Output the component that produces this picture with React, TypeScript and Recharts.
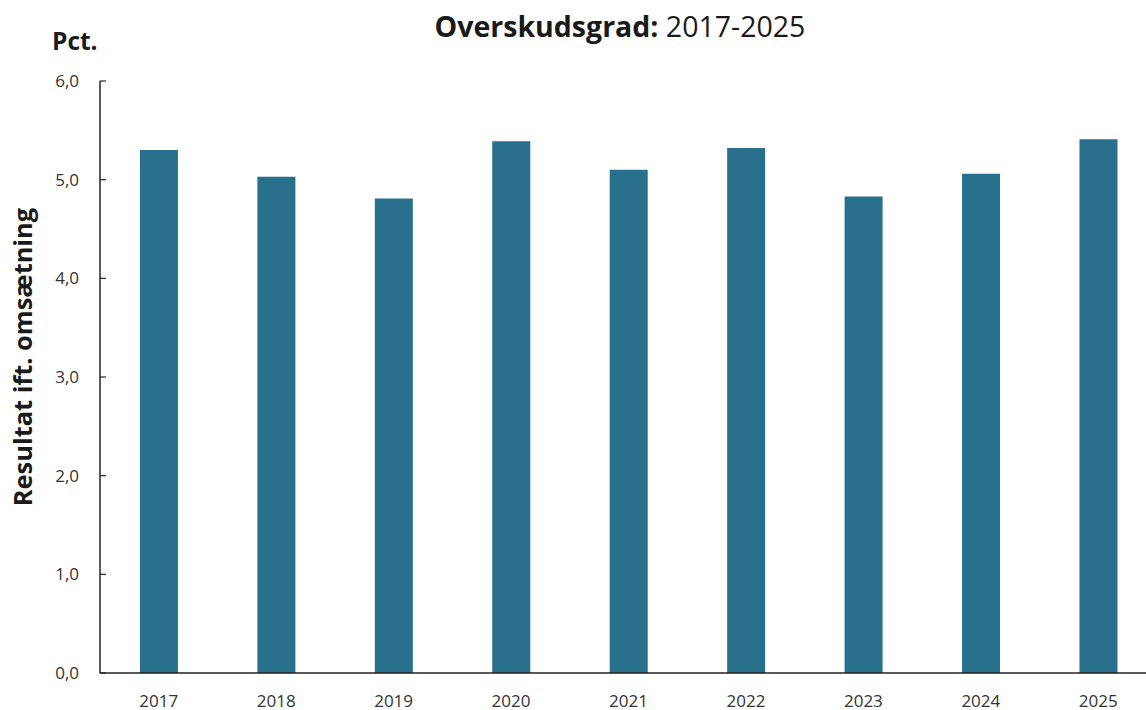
import { Bar, BarChart, XAxis, YAxis } from "recharts";

const years = ["2017", "2018", "2019", "2020", "2021", "2022", "2023", "2024", "2025"];
const margins = [5.3, 5.03, 4.81, 5.39, 5.1, 5.32, 4.83, 5.06, 5.41];
const yTicks = [0, 1, 2, 3, 4, 5, 6];

const rows = years.map((y, i) => ({ year: y, value: margins[i] }));

const FONT = "'Open Sans', sans-serif";
const INK = "#1a1a1a";
const BAR = "#28708b";

// Y ticks point into the plot, so the tick line is drawn by hand.
function YTick(props: any) {
  const { x, y, payload } = props;
  return (
    <g>
      <line x1={x + 21} x2={x + 27} y1={y} y2={y} stroke="#222" strokeWidth={1.2} />
      <text x={x} y={y} dy="0.36em" textAnchor="end" fontSize={17} fill="#333" fontFamily={FONT}>
        {payload.value.toFixed(1).replace(".", ",")}
      </text>
    </g>
  );
}

export default function App() {
  return (
    <div
      style={{
        position: "absolute",
        left: 0,
        top: 0,
        width: 1146,
        height: 710,
        overflow: "hidden",
        background: "white",
        fontFamily: FONT,
      }}
    >
      <div
        style={{
          position: "absolute",
          left: 0,
          width: 1240,
          top: 7,
          textAlign: "center",
          fontSize: 28.5,
          color: INK,
          lineHeight: "38px",
        }}
      >
        <span style={{ fontWeight: 700 }}>Overskudsgrad:</span> 2017-2025
      </div>
      <div
        style={{
          position: "absolute",
          left: 52,
          top: 25,
          fontSize: 24.5,
          fontWeight: 700,
          color: INK,
          lineHeight: "32px",
        }}
      >
        Pct.
      </div>
      <div
        style={{
          position: "absolute",
          left: 22,
          top: 357,
          transform: "translate(-50%, -50%) rotate(-90deg)",
          whiteSpace: "nowrap",
          fontSize: 25.4,
          fontWeight: 700,
          color: INK,
          lineHeight: "32px",
        }}
      >
        Resultat ift. omsætning
      </div>
      <BarChart
        width={1160}
        height={710}
        data={rows}
        margin={{ top: 81, right: 3, left: 40, bottom: 0 }}
        barCategoryGap="34%"
      >
        <XAxis
          dataKey="year"
          height={37}
          tickSize={0}
          tickMargin={22}
          tickLine={false}
          axisLine={{ stroke: "#222", strokeWidth: 1.5 }}
          tick={{ fontSize: 17, fill: "#333", fontFamily: FONT }}
          interval={0}
        />
        <YAxis
          width={60}
          domain={[0, 6]}
          ticks={yTicks}
          tickSize={0}
          tickMargin={21}
          tickLine={false}
          axisLine={{ stroke: "#222", strokeWidth: 1.5 }}
          tick={<YTick />}
          interval={0}
        />
        <Bar dataKey="value" fill={BAR} isAnimationActive={false} />
      </BarChart>
    </div>
  );
}
